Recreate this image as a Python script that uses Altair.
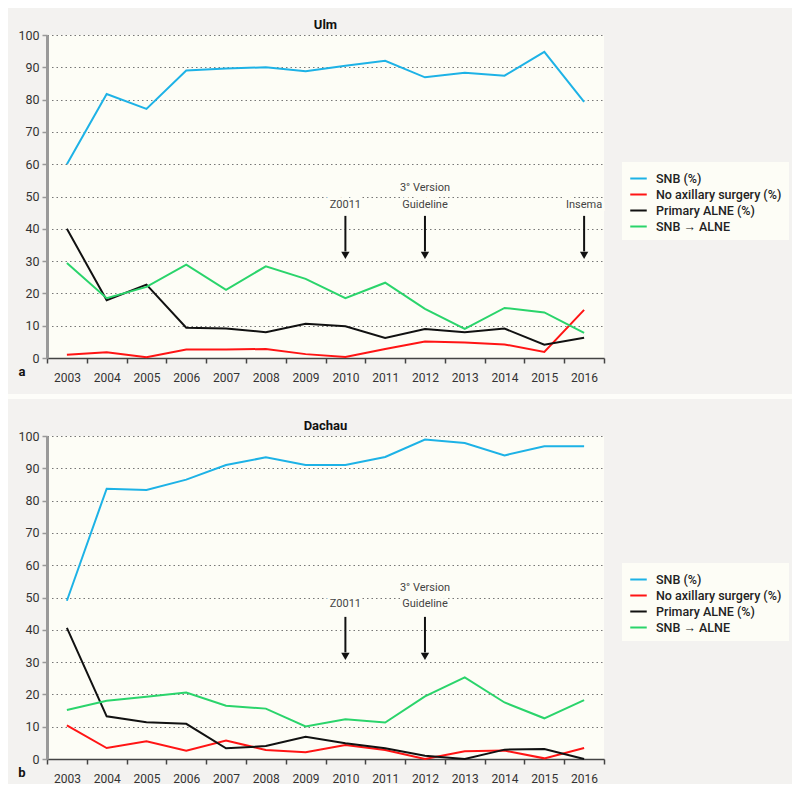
import altair as alt
import pandas as pd

years = list(range(2003, 2017))
series_names = ["SNB (%)", "No axillary surgery (%)", "Primary ALNE (%)", "SNB → ALNE"]
series_colors = ["#1db2e6", "#ff1414", "#111111", "#2ad46b"]

ulm_snb = [60.0, 81.7, 77.1, 89.0, 89.6, 90.0, 88.8, 90.5, 92.0, 86.9, 88.3, 87.4, 94.8, 79.3]
ulm_none = [1.0, 1.8, 0.2, 2.6, 2.6, 2.8, 1.2, 0.3, 2.8, 5.1, 4.8, 4.2, 1.9, 14.9]
ulm_alne = [40.0, 17.9, 22.7, 9.4, 9.1, 8.0, 10.6, 9.8, 6.2, 9.0, 8.0, 9.1, 4.1, 6.3]
ulm_snb_alne = [29.4, 18.5, 22.0, 28.9, 21.1, 28.4, 24.5, 18.5, 23.3, 15.2, 9.0, 15.5, 14.1, 7.8]

dachau_snb = [49.0, 83.7, 83.3, 86.5, 91.0, 93.4, 91.0, 91.0, 93.5, 98.9, 97.8, 94.0, 96.8, 96.8]
dachau_none = [10.4, 3.4, 5.5, 2.6, 5.7, 2.8, 2.1, 4.3, 2.8, 0.0, 2.4, 2.6, 0.2, 3.4]
dachau_alne = [40.6, 13.2, 11.4, 10.9, 3.3, 4.0, 6.9, 4.9, 3.3, 1.0, 0.0, 2.9, 3.1, 0.0]
dachau_snb_alne = [15.2, 18.0, 19.3, 20.6, 16.5, 15.6, 10.1, 12.3, 11.3, 19.4, 25.3, 17.5, 12.6, 18.2]

# annotations: year, text lines, y of text
ulm_ann_years = [2010, 2012, 2012, 2016]
ulm_ann_text = ["Z0011", "3° Version", "Guideline", "Insema"]
ulm_ann_y = [47.3, 52.5, 47.3, 47.3]
ulm_arrow_years = [2010, 2012, 2016]

dachau_ann_years = [2010, 2012, 2012]
dachau_ann_text = ["Z0011", "3° Version", "Guideline"]
dachau_ann_y = [48.0, 53.0, 48.0]
dachau_arrow_years = [2010, 2012]

arrow_top = 44
arrow_bottom = 33
arrow_head = 31.8

W, H = 557, 323
FONT = "Roboto"
CREAM = "#fdfdf6"
GRAY = "#f3f2f0"

XAXIS = alt.Axis(
    title=None, labelAngle=0, tickBand="extent", grid=False,
    domainColor="#444", domainWidth=1.5, tickColor="#444", tickSize=5,
    tickWidth=1.5, labelPadding=9, labelFontSize=12, labelColor="#333",
    labelFont=FONT, labelOverlap=False,
)
YAXIS = alt.Axis(
    title=None, values=list(range(0, 101, 10)), grid=True, gridDash=[1.5, 3],
    gridColor="#777", gridWidth=1, domainColor="#999", domainWidth=3,
    tickColor="#999", tickSize=5, tickWidth=1.5, labelFontSize=12.5,
    labelColor="#333", labelFont=FONT, labelPadding=3, labelOverlap=False,
)
XSCALE = alt.Scale(type="band", paddingInner=0, paddingOuter=0, domain=years)
YSCALE = alt.Scale(domain=[0, 100], nice=False)


def xe():
    return alt.X("year:O", scale=XSCALE, bandPosition=0.5, axis=XAXIS)


def ye(field):
    return alt.Y(field, scale=YSCALE, axis=YAXIS)


def make_panel(title, letter, vals, ann_years, ann_text, ann_y, arrow_years, strip):
    rows = []
    for name, v in zip(series_names, vals):
        for yr, val in zip(years, v):
            rows.append({"year": yr, "series": name, "value": val})
    df = pd.DataFrame(rows)

    lines = alt.Chart(df).mark_line(strokeWidth=2).encode(
        x=xe(),
        y=ye("value:Q"),
        color=alt.Color(
            "series:N",
            scale=alt.Scale(domain=series_names, range=series_colors),
            legend=alt.Legend(
                title=None, orient="none", legendX=575, legendY=127,
                fillColor=CREAM, padding=7, symbolType="stroke",
                symbolStrokeWidth=2, symbolSize=272, labelFont=FONT,
                labelFontSize=12.5, labelFontWeight=500, labelColor="#222",
                labelOffset=8, rowPadding=0,
            ),
        ),
        detail="series:N",
    )

    ann = pd.DataFrame({"year": ann_years, "text": ann_text, "y": ann_y})
    halo = alt.Chart(ann).mark_text(
        font=FONT, fontSize=11, fill=CREAM, stroke=CREAM, strokeWidth=6,
        baseline="middle",
    ).encode(x=xe(), y=ye("y:Q"), text="text:N")
    texts = alt.Chart(ann).mark_text(
        font=FONT, fontSize=11, color="#444", baseline="middle",
    ).encode(x=xe(), y=ye("y:Q"), text="text:N")

    arr = pd.DataFrame({"year": arrow_years, "top": [arrow_top] * len(arrow_years),
                        "bottom": [arrow_bottom] * len(arrow_years),
                        "head": [arrow_head] * len(arrow_years)})
    shafts = alt.Chart(arr).mark_rule(color="#111", strokeWidth=2).encode(
        x=xe(), y=ye("top:Q"), y2="bottom:Q")
    heads = alt.Chart(arr).mark_point(
        shape="triangle-down", filled=True, color="#111", size=70, opacity=1,
    ).encode(x=xe(), y=ye("head:Q"))

    lab = alt.Chart(pd.DataFrame({"t": [letter]})).mark_text(
        font=FONT, fontSize=13, fontWeight="bold", color="#111", baseline="middle",
        align="center",
    ).encode(x=alt.value(-25), y=alt.value(H + 14), text="t:N")

    layers = [lines, halo, texts, shafts, heads, lab]
    if strip:
        s = alt.Chart(pd.DataFrame({"d": [0]})).mark_rect(color="#fdfdf9").encode(
            x=alt.value(-39), x2=alt.value(745), y=alt.value(H + 36), y2=alt.value(H + 41))
        layers.append(s)

    return alt.layer(*layers).properties(
        width=W, height=H,
        title=alt.TitleParams(title, font=FONT, fontSize=13, fontWeight="bold",
                              color="#111", offset=-3, anchor="middle"),
    )


pa = make_panel("Ulm", "a", [ulm_snb, ulm_none, ulm_alne, ulm_snb_alne],
                ulm_ann_years, ulm_ann_text, ulm_ann_y, ulm_arrow_years, True)
pb = make_panel("Dachau", "b", [dachau_snb, dachau_none, dachau_alne, dachau_snb_alne],
                dachau_ann_years, dachau_ann_text, dachau_ann_y, dachau_arrow_years, False)

chart = alt.vconcat(pa, pb, spacing=78, bounds="flush").resolve_scale(
    color="independent").resolve_legend(color="independent").properties(
    background=GRAY,
    padding={"left": 0, "top": 11, "right": 0, "bottom": 0},
).configure_view(fill=CREAM, stroke=None)

chart.save("out.html", embed_options={"renderer": "svg", "actions": False})
